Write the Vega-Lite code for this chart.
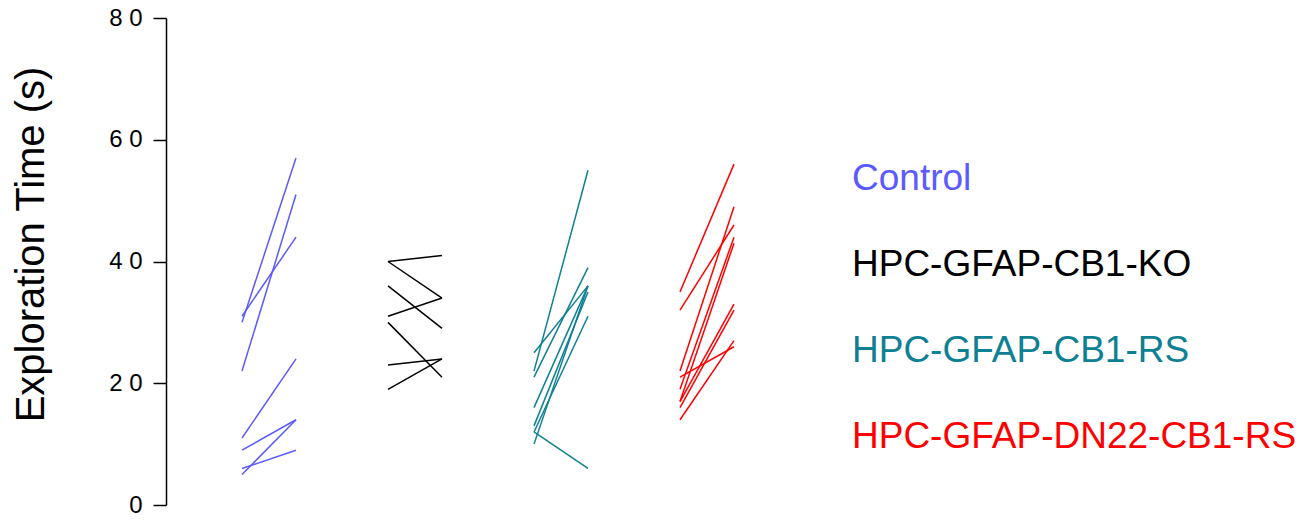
{
  "$schema": "https://vega.github.io/schema/vega-lite/v6.json",
  "padding": {"left": 10, "top": 6, "right": 5, "bottom": 5},
  "background": "white",
  "data": {
    "values": [
      {"group": "Control", "id": "c1", "session": 1, "time": 30},
      {"group": "Control", "id": "c1", "session": 2, "time": 57},
      {"group": "Control", "id": "c2", "session": 1, "time": 22},
      {"group": "Control", "id": "c2", "session": 2, "time": 51},
      {"group": "Control", "id": "c3", "session": 1, "time": 31},
      {"group": "Control", "id": "c3", "session": 2, "time": 44},
      {"group": "Control", "id": "c4", "session": 1, "time": 11},
      {"group": "Control", "id": "c4", "session": 2, "time": 24},
      {"group": "Control", "id": "c5", "session": 1, "time": 9},
      {"group": "Control", "id": "c5", "session": 2, "time": 14},
      {"group": "Control", "id": "c6", "session": 1, "time": 6},
      {"group": "Control", "id": "c6", "session": 2, "time": 9},
      {"group": "Control", "id": "c7", "session": 1, "time": 5},
      {"group": "Control", "id": "c7", "session": 2, "time": 14},
      {"group": "HPC-GFAP-CB1-KO", "id": "k1", "session": 1, "time": 40},
      {"group": "HPC-GFAP-CB1-KO", "id": "k1", "session": 2, "time": 41},
      {"group": "HPC-GFAP-CB1-KO", "id": "k2", "session": 1, "time": 40},
      {"group": "HPC-GFAP-CB1-KO", "id": "k2", "session": 2, "time": 34},
      {"group": "HPC-GFAP-CB1-KO", "id": "k3", "session": 1, "time": 31},
      {"group": "HPC-GFAP-CB1-KO", "id": "k3", "session": 2, "time": 34},
      {"group": "HPC-GFAP-CB1-KO", "id": "k4", "session": 1, "time": 36},
      {"group": "HPC-GFAP-CB1-KO", "id": "k4", "session": 2, "time": 29},
      {"group": "HPC-GFAP-CB1-KO", "id": "k5", "session": 1, "time": 30},
      {"group": "HPC-GFAP-CB1-KO", "id": "k5", "session": 2, "time": 21},
      {"group": "HPC-GFAP-CB1-KO", "id": "k6", "session": 1, "time": 23},
      {"group": "HPC-GFAP-CB1-KO", "id": "k6", "session": 2, "time": 24},
      {"group": "HPC-GFAP-CB1-KO", "id": "k7", "session": 1, "time": 19},
      {"group": "HPC-GFAP-CB1-KO", "id": "k7", "session": 2, "time": 24},
      {"group": "HPC-GFAP-CB1-RS", "id": "r1", "session": 1, "time": 22},
      {"group": "HPC-GFAP-CB1-RS", "id": "r1", "session": 2, "time": 55},
      {"group": "HPC-GFAP-CB1-RS", "id": "r2", "session": 1, "time": 25},
      {"group": "HPC-GFAP-CB1-RS", "id": "r2", "session": 2, "time": 36},
      {"group": "HPC-GFAP-CB1-RS", "id": "r3", "session": 1, "time": 21},
      {"group": "HPC-GFAP-CB1-RS", "id": "r3", "session": 2, "time": 39},
      {"group": "HPC-GFAP-CB1-RS", "id": "r4", "session": 1, "time": 16},
      {"group": "HPC-GFAP-CB1-RS", "id": "r4", "session": 2, "time": 36},
      {"group": "HPC-GFAP-CB1-RS", "id": "r5", "session": 1, "time": 13},
      {"group": "HPC-GFAP-CB1-RS", "id": "r5", "session": 2, "time": 35},
      {"group": "HPC-GFAP-CB1-RS", "id": "r6", "session": 1, "time": 12},
      {"group": "HPC-GFAP-CB1-RS", "id": "r6", "session": 2, "time": 31},
      {"group": "HPC-GFAP-CB1-RS", "id": "r7", "session": 1, "time": 10},
      {"group": "HPC-GFAP-CB1-RS", "id": "r7", "session": 2, "time": 36},
      {"group": "HPC-GFAP-CB1-RS", "id": "r8", "session": 1, "time": 12},
      {"group": "HPC-GFAP-CB1-RS", "id": "r8", "session": 2, "time": 6},
      {"group": "HPC-GFAP-DN22-CB1-RS", "id": "d1", "session": 1, "time": 35},
      {"group": "HPC-GFAP-DN22-CB1-RS", "id": "d1", "session": 2, "time": 56},
      {"group": "HPC-GFAP-DN22-CB1-RS", "id": "d2", "session": 1, "time": 32},
      {"group": "HPC-GFAP-DN22-CB1-RS", "id": "d2", "session": 2, "time": 46},
      {"group": "HPC-GFAP-DN22-CB1-RS", "id": "d3", "session": 1, "time": 22},
      {"group": "HPC-GFAP-DN22-CB1-RS", "id": "d3", "session": 2, "time": 49},
      {"group": "HPC-GFAP-DN22-CB1-RS", "id": "d4", "session": 1, "time": 21},
      {"group": "HPC-GFAP-DN22-CB1-RS", "id": "d4", "session": 2, "time": 26},
      {"group": "HPC-GFAP-DN22-CB1-RS", "id": "d5", "session": 1, "time": 19},
      {"group": "HPC-GFAP-DN22-CB1-RS", "id": "d5", "session": 2, "time": 44},
      {"group": "HPC-GFAP-DN22-CB1-RS", "id": "d6", "session": 1, "time": 17},
      {"group": "HPC-GFAP-DN22-CB1-RS", "id": "d6", "session": 2, "time": 43},
      {"group": "HPC-GFAP-DN22-CB1-RS", "id": "d7", "session": 1, "time": 17},
      {"group": "HPC-GFAP-DN22-CB1-RS", "id": "d7", "session": 2, "time": 33},
      {"group": "HPC-GFAP-DN22-CB1-RS", "id": "d8", "session": 1, "time": 16},
      {"group": "HPC-GFAP-DN22-CB1-RS", "id": "d8", "session": 2, "time": 32},
      {"group": "HPC-GFAP-DN22-CB1-RS", "id": "d9", "session": 1, "time": 14},
      {"group": "HPC-GFAP-DN22-CB1-RS", "id": "d9", "session": 2, "time": 27}
    ]
  },
  "facet": {
    "column": {
      "field": "group",
      "type": "nominal",
      "sort": ["Control", "HPC-GFAP-CB1-KO", "HPC-GFAP-CB1-RS", "HPC-GFAP-DN22-CB1-RS"],
      "header": {"title": null, "labels": false}
    }
  },
  "spacing": {"column": 0},
  "spec": {
    "width": 146,
    "height": 487,
    "mark": {"type": "line", "strokeWidth": 1.5},
    "encoding": {
      "x": {
        "field": "session",
        "type": "quantitative",
        "scale": {"domain": [-0.4074, 2.2963], "nice": false, "zero": false},
        "axis": null
      },
      "y": {
        "field": "time",
        "type": "quantitative",
        "scale": {"domain": [0, 80], "nice": false},
        "axis": {
          "title": "Exploration Time (s)",
          "values": [0, 20, 40, 60, 80],
          "grid": false,
          "domainColor": "black",
          "domainWidth": 1.5,
          "tickColor": "black",
          "tickWidth": 1.5,
          "tickSize": 13,
          "labelFont": "Liberation Sans",
          "labelFontSize": 24,
          "labelColor": "black",
          "labelPadding": 11,
          "labelExpr": "length(datum.label) > 1 ? slice(datum.label, 0, 1) + ' ' + slice(datum.label, 1) : datum.label",
          "titleFont": "Liberation Sans",
          "titleFontSize": 40,
          "titleFontWeight": "normal",
          "titleColor": "black",
          "titleBaseline": "alphabetic",
          "titleAlign": "center",
          "titleX": -123,
          "titleY": 226
        }
      },
      "color": {
        "field": "group",
        "type": "nominal",
        "scale": {
          "domain": ["Control", "HPC-GFAP-CB1-KO", "HPC-GFAP-CB1-RS", "HPC-GFAP-DN22-CB1-RS"],
          "range": ["#5A5AFF", "#000000", "#0E8093", "#FF0000"]
        },
        "legend": {
          "orient": "none",
          "legendX": 649,
          "legendY": 142,
          "title": null,
          "symbolSize": 0,
          "symbolOpacity": 0,
          "symbolStrokeWidth": 0,
          "labelOffset": 0,
          "labelFont": "Liberation Sans",
          "labelFontSize": 37,
          "labelLimit": 1000,
          "rowPadding": 48,
          "encode": {"labels": {"update": {"fill": {"scale": "color", "field": "value"}}}}
        }
      },
      "detail": {"field": "id", "type": "nominal"}
    }
  },
  "config": {"view": {"stroke": null}}
}
